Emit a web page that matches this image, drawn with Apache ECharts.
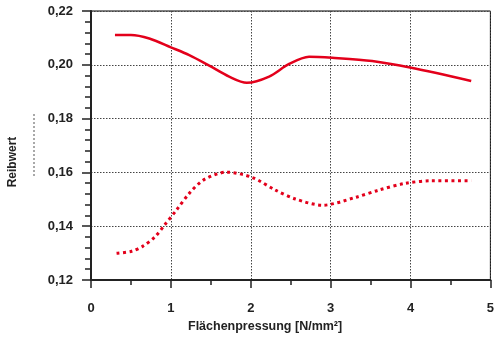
<!DOCTYPE html>
<html>
<head>
<meta charset="utf-8">
<script src="https://cdn.jsdelivr.net/npm/echarts@6/dist/echarts.min.js"></script>
<style>html,body{margin:0;padding:0;background:#fff}#c{width:497px;height:343px}</style>
</head>
<body>
<div id="c"></div>
<script>
var xTitle = 'Flächenpressung [N/mm²]';
var yTitle = 'Reibwert';
var solidSeries = [[0.30,0.2111],[0.50,0.2111],[0.73,0.2098],[1.00,0.2065],[1.23,0.2036],[1.48,0.1997],[1.73,0.1956],[1.95,0.1933],[2.23,0.1956],[2.48,0.2003],[2.73,0.2030],[3.02,0.2026],[3.52,0.2014],[4.01,0.1989],[4.76,0.1940]];
var dottedSeries = [[0.32,0.1299],[0.51,0.1307],[0.65,0.1326],[0.80,0.1360],[0.92,0.1404],[1.07,0.1460],[1.23,0.1522],[1.42,0.1574],[1.70,0.1601],[2.02,0.1581],[2.31,0.1534],[2.56,0.1501],[2.90,0.1478],[3.31,0.1507],[3.60,0.1534],[3.93,0.1559],[4.26,0.1569],[4.76,0.1569]];

var chart = echarts.init(document.getElementById('c'), null, {renderer:'canvas'});
var font = 'Liberation Sans, Arial, sans-serif';
chart.setOption({
  animation: false,
  grid: {left: 91, right: 4, top: 11, bottom: 63, show: true, borderColor: '#000', borderWidth: 1},
  xAxis: {
    type: 'value', min: 0, max: 5, interval: 1,
    axisLine: {onZero: false, lineStyle: {color: '#222', width: 2}},
    axisTick: {show: true, length: 8, lineStyle: {color: '#222', width: 1.5}},
    minorTick: {show: true, splitNumber: 2, length: 5, lineStyle: {color: '#222', width: 1.5}},
    splitLine: {show: true, lineStyle: {type: [1.5,1.5], color: '#444', width: 1}},
    axisLabel: {margin: 22, color: '#222', fontFamily: font, fontWeight: 'bold', fontSize: 13}
  },
  yAxis: {
    type: 'value', min: 0.12, max: 0.22, interval: 0.02,
    axisLine: {onZero: false, lineStyle: {color: '#222', width: 2}},
    axisTick: {show: true, length: 9, lineStyle: {color: '#222', width: 1.5}},
    minorTick: {show: true, splitNumber: 5, length: 6, lineStyle: {color: '#222', width: 1.5}},
    splitLine: {show: true, lineStyle: {type: [1.5,1.5], color: '#444', width: 1}},
    axisLabel: {margin: 18, color: '#222', fontFamily: font, fontWeight: 'bold', fontSize: 13,
      formatter: function(v){ return v.toFixed(2).replace('.', ','); }}
  },
  graphic: [
    {type: 'text', left: 188, top: 320, style: {text: xTitle, fill: '#222', font: 'bold 12.5px ' + font}},
    {type: 'text', x: 13, y: 162, rotation: Math.PI/2, style: {text: yTitle, fill: '#222', font: 'bold 12px ' + font, align: 'center', verticalAlign: 'middle'}},
    {type: 'line', shape: {x1: 34, y1: 114, x2: 34, y2: 178}, style: {stroke: '#555', lineWidth: 1, lineDash: [2,2]}}
  ],
  series: [
    {type: 'line', data: solidSeries, smooth: 0.3, showSymbol: false, lineStyle: {color: '#e3001b', width: 2.5}},
    {type: 'line', data: dottedSeries, smooth: 0.3, showSymbol: false, lineStyle: {color: '#e3001b', width: 3, type: [3,3.5]}}
  ]
});
</script>
</body>
</html>
